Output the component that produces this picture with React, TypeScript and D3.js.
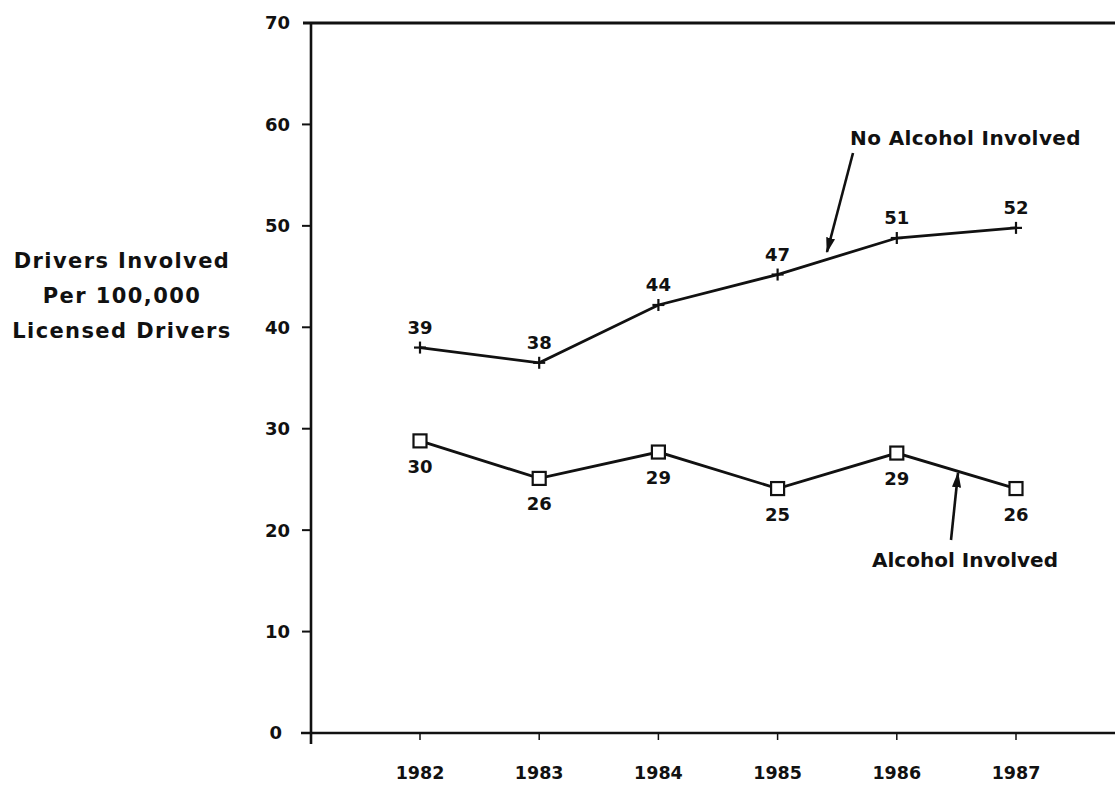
import React from "react";
import * as d3 from "d3";

const years = [1982, 1983, 1984, 1985, 1986, 1987];
const noAlcoholValues = [38.0, 36.5, 42.2, 45.2, 48.8, 49.8];
const noAlcoholLabels = ["39", "38", "44", "47", "51", "52"];
const alcoholValues = [28.8, 25.1, 27.7, 24.1, 27.6, 24.1];
const alcoholLabels = ["30", "26", "29", "25", "29", "26"];
const yTicks = [0, 10, 20, 30, 40, 50, 60, 70];
const yTitle = ["Drivers Involved", "Per 100,000", "Licensed Drivers"];
const noAlcoholName = "No Alcohol Involved";
const alcoholName = "Alcohol Involved";

const W = 1115;
const H = 785;
const FONT = "'DejaVu Sans', 'Liberation Sans', Arial, sans-serif";

export default function App() {
  const x = d3.scaleLinear().domain([1982, 1987]).range([420, 1016]);
  const y = d3.scaleLinear().domain([0, 70]).range([733, 23]);
  const line = d3
    .line<number>()
    .x((_, i) => x(years[i]))
    .y((d) => y(d));

  const axisX = 311;

  return (
    <svg
      width={W}
      height={H}
      style={{ position: "absolute", left: 0, top: 0, background: "#fff" }}
      fontFamily={FONT}
    >
      <defs>
        <marker
          id="arrow"
          viewBox="0 0 12 10"
          refX="11"
          refY="5"
          markerWidth="6"
          markerHeight="5"
          orient="auto"
          markerUnits="strokeWidth"
        >
          <path d="M0,1.5 L12,5 L0,8.5 Z" fill="#111" />
        </marker>
      </defs>
      <rect x={0} y={0} width={W} height={H} fill="#fff" />

      {/* frame lines */}
      <line x1={axisX - 8} x2={W} y1={y(70)} y2={y(70)} stroke="#111" strokeWidth={2.8} />
      <line x1={axisX - 10} x2={W} y1={y(0)} y2={y(0)} stroke="#111" strokeWidth={2.6} />
      <line x1={axisX} x2={axisX} y1={y(70)} y2={y(0) + 11} stroke="#111" strokeWidth={2.6} />

      {/* y ticks */}
      {yTicks.map((t) => (
        <g key={t}>
          {t !== 0 && t !== 70 && (
            <line x1={axisX - 9} x2={axisX} y1={y(t)} y2={y(t)} stroke="#111" strokeWidth={2} />
          )}
          <text
            x={t === 0 ? 282 : 290}
            y={y(t)}
            dy="0.36em"
            textAnchor="end"
            fontSize={18}
            fontWeight="bold"
            fill="#111"
          >
            {t}
          </text>
        </g>
      ))}

      {/* x ticks */}
      {years.map((yr) => (
        <g key={yr}>
          <line x1={x(yr)} x2={x(yr)} y1={y(0)} y2={y(0) + 7} stroke="#111" strokeWidth={1.5} />
          <text
            x={x(yr)}
            y={779}
            textAnchor="middle"
            fontSize={17.5}
            fontWeight="bold"
            fill="#111"
          >
            {yr}
          </text>
        </g>
      ))}

      {/* y title */}
      {yTitle.map((s, i) => (
        <text
          key={s}
          x={122}
          y={268 + i * 35}
          textAnchor="middle"
          fontSize={21}
          fontWeight="bold"
          fill="#111"
          letterSpacing={1.4}
        >
          {s}
        </text>
      ))}

      {/* lines */}
      <path d={line(noAlcoholValues) || ""} fill="none" stroke="#111" strokeWidth={2.8} />
      <path d={line(alcoholValues) || ""} fill="none" stroke="#111" strokeWidth={2.8} />

      {/* markers: plus */}
      {noAlcoholValues.map((v, i) => (
        <g key={"p" + i} stroke="#111" strokeWidth={2.2}>
          <line x1={x(years[i]) - 6} x2={x(years[i]) + 6} y1={y(v)} y2={y(v)} />
          <line x1={x(years[i])} x2={x(years[i])} y1={y(v) - 6} y2={y(v) + 6} />
        </g>
      ))}
      {/* markers: squares */}
      {alcoholValues.map((v, i) => (
        <rect
          key={"s" + i}
          x={x(years[i]) - 6.5}
          y={y(v) - 6.5}
          width={13}
          height={13}
          fill="#fff"
          stroke="#111"
          strokeWidth={2.2}
        />
      ))}

      {/* value labels */}
      {noAlcoholValues.map((v, i) => (
        <text
          key={"nl" + i}
          x={x(years[i])}
          y={y(v) - 14}
          textAnchor="middle"
          fontSize={18}
          fontWeight="bold"
          fill="#111"
        >
          {noAlcoholLabels[i]}
        </text>
      ))}
      {alcoholValues.map((v, i) => (
        <text
          key={"al" + i}
          x={x(years[i])}
          y={y(v) + 32}
          textAnchor="middle"
          fontSize={18}
          fontWeight="bold"
          fill="#111"
        >
          {alcoholLabels[i]}
        </text>
      ))}

      {/* annotations */}
      <text x={850} y={145} fontSize={20} fontWeight="bold" fill="#111" letterSpacing={0.4}>
        {noAlcoholName}
      </text>
      <line
        x1={853}
        y1={153}
        x2={827}
        y2={252}
        stroke="#111"
        strokeWidth={2.6}
        markerEnd="url(#arrow)"
      />
      <text x={872} y={567} fontSize={20} fontWeight="bold" fill="#111">
        {alcoholName}
      </text>
      <line
        x1={951}
        y1={540}
        x2={958}
        y2={473}
        stroke="#111"
        strokeWidth={2.6}
        markerEnd="url(#arrow)"
      />
    </svg>
  );
}
